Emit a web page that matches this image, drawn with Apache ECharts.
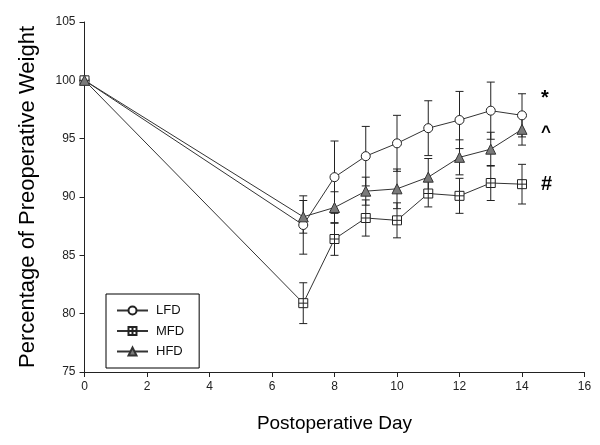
<!DOCTYPE html>
<html>
<head>
<meta charset="utf-8">
<script src="https://cdn.jsdelivr.net/npm/echarts@6/dist/echarts.min.js"></script>
<style>html,body{margin:0;padding:0;background:#fff}#c{width:600px;height:445px}</style>
</head>
<body>
<div id="c"></div>
<script>
var days   = [0, 7, 8, 9, 10, 11, 12, 13, 14];
var lfd    = [100, 87.6, 91.7, 93.5, 94.6, 95.9, 96.6, 97.4, 97.0];
var lfdErr = [0, 2.5, 3.1, 2.55, 2.4, 2.35, 2.45, 2.45, 1.85];
var mfd    = [100, 80.9, 86.4, 88.2, 88.0, 90.3, 90.1, 91.2, 91.1];
var mfdErr = [0, 1.75, 1.4, 1.55, 1.5, 1.15, 1.5, 1.5, 1.7];
var hfd    = [100, 88.3, 89.1, 90.5, 90.7, 91.7, 93.4, 94.1, 95.8];
var hfdErr = [0, 1.4, 1.35, 1.2, 1.7, 1.6, 1.5, 1.45, 1.35];
var seriesNames = ['LFD', 'MFD', 'HFD'];
var marks = ['*', '^', '#'];
var xTitle = 'Postoperative Day';
var yTitle = 'Percentage of Preoperative Weight';

var FONT = '"Liberation Sans", Arial, sans-serif';
var lineColor = '#333';

function pts(vals) { return days.map(function (d, i) { return [d, vals[i]]; }); }
function errData(vals, errs) {
  var out = [];
  days.forEach(function (d, i) { if (errs[i] > 0) out.push([d, vals[i] - errs[i], vals[i] + errs[i]]); });
  return out;
}
function errSeries(vals, errs, z) {
  return {
    type: 'custom', silent: true, z: z,
    data: errData(vals, errs),
    renderItem: function (params, api) {
      var lo = api.coord([api.value(0), api.value(1)]);
      var hi = api.coord([api.value(0), api.value(2)]);
      var w = 4;
      var st = { stroke: '#222', lineWidth: 1 };
      return {
        type: 'group', children: [
          { type: 'line', shape: { x1: lo[0], y1: lo[1], x2: hi[0], y2: hi[1] }, style: st },
          { type: 'line', shape: { x1: lo[0] - w, y1: lo[1], x2: lo[0] + w, y2: lo[1] }, style: st },
          { type: 'line', shape: { x1: hi[0] - w, y1: hi[1], x2: hi[0] + w, y2: hi[1] }, style: st }
        ]
      };
    }
  };
}
var squareCross = 'path://M0,0 L10,0 L10,10 L0,10 Z M5,0 L5,10 M0,5 L10,5';

var chart = echarts.init(document.getElementById('c'), null, { renderer: 'canvas' });
chart.setOption({
  animation: false,
  backgroundColor: '#fff',
  textStyle: { fontFamily: FONT },
  grid: { left: 84.5, right: 15.5, top: 22, bottom: 73, containLabel: false },
  xAxis: {
    type: 'value', min: 0, max: 16, interval: 2,
    name: xTitle, nameLocation: 'middle', nameGap: 42,
    nameTextStyle: { fontSize: 19, color: '#000', fontFamily: FONT },
    axisLine: { show: true, lineStyle: { color: '#222', width: 1 } },
    axisTick: { show: true, length: 5, lineStyle: { color: '#222' } },
    axisLabel: { fontSize: 12, color: '#222', margin: 9, fontFamily: FONT },
    splitLine: { show: false }
  },
  yAxis: {
    type: 'value', min: 75, max: 105, interval: 5,
    name: yTitle, nameLocation: 'middle', nameGap: 46,
    nameTextStyle: { fontSize: 22, color: '#000', fontFamily: FONT },
    axisLine: { show: true, lineStyle: { color: '#222', width: 1 } },
    axisTick: { show: true, length: 5, lineStyle: { color: '#222' } },
    axisLabel: { fontSize: 12, color: '#222', margin: 9, fontFamily: FONT },
    splitLine: { show: false }
  },
  legend: {
    orient: 'vertical', left: 106, top: 294,
    padding: [10, 15, 10, 10],
    borderColor: '#000', borderWidth: 1,
    itemWidth: 31, itemHeight: 10, itemGap: 7.5,
    textStyle: { fontSize: 13, color: '#111', fontFamily: FONT, padding: [0, 0, 0, 3] },
    data: seriesNames
  },
  series: [
    errSeries(lfd, lfdErr, 3), errSeries(mfd, mfdErr, 3), errSeries(hfd, hfdErr, 3),
    {
      name: seriesNames[0], type: 'line', data: pts(lfd), z: 4,
      symbol: 'circle', symbolSize: 9,
      lineStyle: { color: lineColor, width: 1 },
      itemStyle: { color: '#fff', borderColor: '#222', borderWidth: 1 }
    },
    {
      name: seriesNames[1], type: 'line', data: pts(mfd), z: 4,
      symbol: squareCross, symbolSize: 9,
      lineStyle: { color: lineColor, width: 1 },
      itemStyle: { color: '#fff', borderColor: '#222', borderWidth: 1 }
    },
    {
      name: seriesNames[2], type: 'line', data: pts(hfd), z: 4,
      symbol: 'triangle', symbolSize: 10,
      lineStyle: { color: lineColor, width: 1 },
      itemStyle: { color: '#7a7a7a', borderColor: '#333', borderWidth: 1 }
    }
  ],
  graphic: [
    { type: 'text', left: 541, top: 88, style: { text: marks[0], font: 'bold 20px ' + FONT, fill: '#000' } },
    { type: 'text', left: 541, top: 124, style: { text: marks[1], font: 'bold 17px ' + FONT, fill: '#000' } },
    { type: 'text', left: 541, top: 174, style: { text: marks[2], font: 'bold 20px ' + FONT, fill: '#000' } }
  ]
});
</script>
</body>
</html>
